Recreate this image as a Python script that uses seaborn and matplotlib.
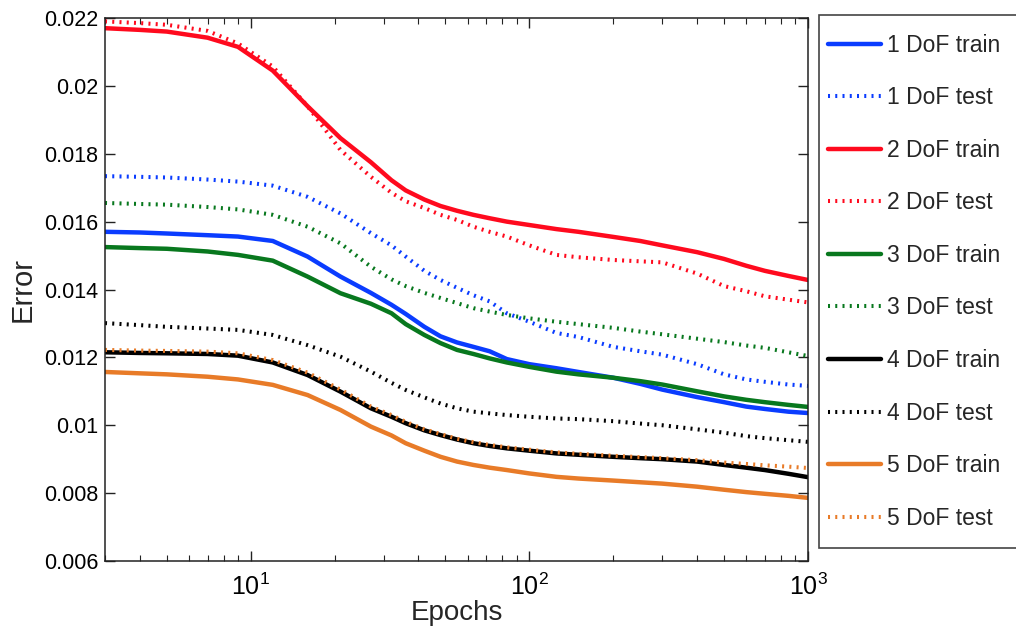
import matplotlib
matplotlib.use("Agg")
import matplotlib.pyplot as plt
from matplotlib.patches import Rectangle
import numpy as np
import pandas as pd
import seaborn as sns
from matplotlib.ticker import FixedLocator, FuncFormatter, LogLocator, NullFormatter

# Training epochs at which the error was recorded
epochs = [3, 4, 5, 7, 9, 12, 16, 21, 27, 32, 36, 42, 48, 55, 63, 72, 83, 100, 125,
          150, 200, 250, 300, 400, 500, 600, 700, 850, 1000]

# Mean error per degree-of-freedom model, train and test
dof1_train = [0.01570, 0.01568, 0.01565, 0.01560, 0.01556, 0.01543, 0.01497, 0.01438, 0.01390,
              0.01355, 0.01328, 0.01290, 0.01262, 0.01244, 0.01231, 0.01218, 0.01195, 0.01180,
              0.01168, 0.01157, 0.01140, 0.01122, 0.01105, 0.01083, 0.01068, 0.01055, 0.01048,
              0.01040, 0.01036]
dof1_test = [0.01734, 0.01732, 0.01730, 0.01724, 0.01718, 0.01706, 0.01673, 0.01624, 0.01566,
             0.01530, 0.01497, 0.01455, 0.01428, 0.01405, 0.01383, 0.01365, 0.01330, 0.01305,
             0.01272, 0.01260, 0.01231, 0.01218, 0.01208, 0.01180, 0.01150, 0.01135, 0.01128,
             0.01120, 0.01116]
dof2_train = [0.02170, 0.02165, 0.02160, 0.02142, 0.02115, 0.02045, 0.01940, 0.01846, 0.01775,
              0.01722, 0.01692, 0.01665, 0.01646, 0.01632, 0.01620, 0.01610, 0.01600, 0.01590,
              0.01578, 0.01570, 0.01555, 0.01543, 0.01530, 0.01510, 0.01490, 0.01470, 0.01455,
              0.01440, 0.01428]
dof2_test = [0.02190, 0.02185, 0.02180, 0.02162, 0.02125, 0.02057, 0.01940, 0.01811, 0.01732,
             0.01685, 0.01660, 0.01640, 0.01620, 0.01605, 0.01585, 0.01570, 0.01556, 0.01530,
             0.01502, 0.01495, 0.01487, 0.01483, 0.01480, 0.01447, 0.01410, 0.01395, 0.01380,
             0.01370, 0.01362]
dof3_train = [0.01525, 0.01522, 0.01520, 0.01512, 0.01502, 0.01485, 0.01438, 0.01389, 0.01358,
              0.01330, 0.01298, 0.01266, 0.01242, 0.01222, 0.01210, 0.01197, 0.01185, 0.01172,
              0.01158, 0.01150, 0.01140, 0.01130, 0.01120, 0.01100, 0.01085, 0.01075, 0.01068,
              0.01060, 0.01054]
dof3_test = [0.01655, 0.01652, 0.01650, 0.01643, 0.01636, 0.01620, 0.01585, 0.01536, 0.01467,
             0.01430, 0.01410, 0.01390, 0.01375, 0.01360, 0.01345, 0.01335, 0.01325, 0.01315,
             0.01305, 0.01298, 0.01287, 0.01276, 0.01268, 0.01255, 0.01245, 0.01235, 0.01228,
             0.01215, 0.01204]
dof4_train = [0.01215, 0.01213, 0.01212, 0.01210, 0.01205, 0.01185, 0.01148, 0.01099, 0.01050,
              0.01025, 0.01006, 0.00985, 0.00971, 0.00958, 0.00947, 0.00939, 0.00932, 0.00925,
              0.00917, 0.00913, 0.00907, 0.00903, 0.00900, 0.00893, 0.00883, 0.00875, 0.00868,
              0.00857, 0.00847]
dof4_test = [0.01301, 0.01295, 0.01290, 0.01285, 0.01281, 0.01266, 0.01236, 0.01202, 0.01158,
             0.01125, 0.01104, 0.01082, 0.01064, 0.01050, 0.01040, 0.01035, 0.01030, 0.01025,
             0.01020, 0.01018, 0.01012, 0.01005, 0.01000, 0.00988, 0.00978, 0.00968, 0.00962,
             0.00956, 0.00951]
dof5_train = [0.01157, 0.01153, 0.01150, 0.01143, 0.01135, 0.01119, 0.01089, 0.01045, 0.00996,
              0.00970, 0.00947, 0.00925, 0.00907, 0.00893, 0.00883, 0.00875, 0.00868, 0.00858,
              0.00848, 0.00843, 0.00837, 0.00832, 0.00828, 0.00819, 0.00810, 0.00803, 0.00798,
              0.00792, 0.00786]
dof5_test = [0.01222, 0.01220, 0.01219, 0.01217, 0.01212, 0.01192, 0.01155, 0.01105, 0.01055,
             0.01030, 0.01010, 0.00988, 0.00974, 0.00960, 0.00950, 0.00942, 0.00935, 0.00928,
             0.00920, 0.00916, 0.00910, 0.00906, 0.00903, 0.00897, 0.00890, 0.00886, 0.00882,
             0.00878, 0.00874]

series_labels = ["1 DoF train", "1 DoF test", "2 DoF train", "2 DoF test", "3 DoF train",
                 "3 DoF test", "4 DoF train", "4 DoF test", "5 DoF train", "5 DoF test"]
series_values = [dof1_train, dof1_test, dof2_train, dof2_test, dof3_train,
                 dof3_test, dof4_train, dof4_test, dof5_train, dof5_test]

dof_colors = ["#0a3cff", "#ff0a1e", "#08781e", "#000000", "#e87b28"]

sns.set_theme(style="ticks")
plt.rcParams["font.family"] = ["Liberation Sans", "DejaVu Sans"]
plt.rcParams["mathtext.fontset"] = "custom"
plt.rcParams["mathtext.rm"] = "Liberation Sans"
plt.rcParams["mathtext.it"] = "Liberation Sans:italic"
plt.rcParams["mathtext.bf"] = "Liberation Sans:bold"

W, H = 1016, 629
fig = plt.figure(figsize=(W / 100, H / 100), dpi=100)
ax = fig.add_axes([105 / W, 1 - 561 / H, (808 - 105) / W, (561 - 18) / H])

for i, (label, values) in enumerate(zip(series_labels, series_values)):
    color = dof_colors[i // 2]
    df = pd.DataFrame({"Epochs": epochs, "Error": values})
    if i % 2 == 0:
        sns.lineplot(data=df, x="Epochs", y="Error", ax=ax, color=color, linewidth=3.2,
                     label=label, estimator=None, sort=False)
    else:
        sns.lineplot(data=df, x="Epochs", y="Error", ax=ax, color=color, linewidth=2.9,
                     label=label, estimator=None, sort=False,
                     linestyle=(0, (0.5, 1.3)), dash_capstyle="butt")

ax.set_xscale("log")
ax.set_xlim(3, 1000)
ax.set_ylim(0.006, 0.022)

ax.yaxis.set_major_locator(FixedLocator(np.arange(0.006, 0.0221, 0.002)))
ax.yaxis.set_major_formatter(FuncFormatter(lambda v, _: f"{v:g}"))
ax.xaxis.set_major_locator(LogLocator(base=10))
ax.xaxis.set_minor_locator(LogLocator(base=10, subs=np.arange(2, 10)))
ax.xaxis.set_minor_formatter(NullFormatter())

ax.tick_params(axis="both", which="both", direction="in", top=True, right=True,
               colors="#222222", labelcolor="black")
ax.tick_params(axis="both", which="major", length=7, width=1)
ax.tick_params(axis="y", which="major", pad=5, labelsize=15.5)
ax.tick_params(axis="x", which="major", pad=9, labelsize=18)
ax.tick_params(axis="both", which="minor", length=4.5, width=0.8)
for spine in ax.spines.values():
    spine.set_visible(True)
    spine.set_color("#222222")
    spine.set_linewidth(1.1)

ax.set_xlabel("Epochs", fontsize=20, labelpad=0)
ax.set_ylabel("Error", fontsize=21, labelpad=5)

# Legend box sits to the right of the axes and runs off the figure edge
fig.patches.append(Rectangle((819 / W, 1 - 548 / H), 0.22, (548 - 15) / H,
                             transform=fig.transFigure, facecolor="white",
                             edgecolor="#444444", linewidth=1.2, zorder=-5))
handles, labels = ax.get_legend_handles_labels()
leg = ax.legend(handles, labels, loc="upper left",
                bbox_to_anchor=(819 / W, 1 - 24.5 / H), bbox_transform=fig.transFigure,
                borderaxespad=0, fontsize=16.5, handlelength=2.3, handletextpad=0.28,
                labelspacing=1.29, borderpad=0.4, frameon=False)

fig.savefig("out.png", dpi=100)
